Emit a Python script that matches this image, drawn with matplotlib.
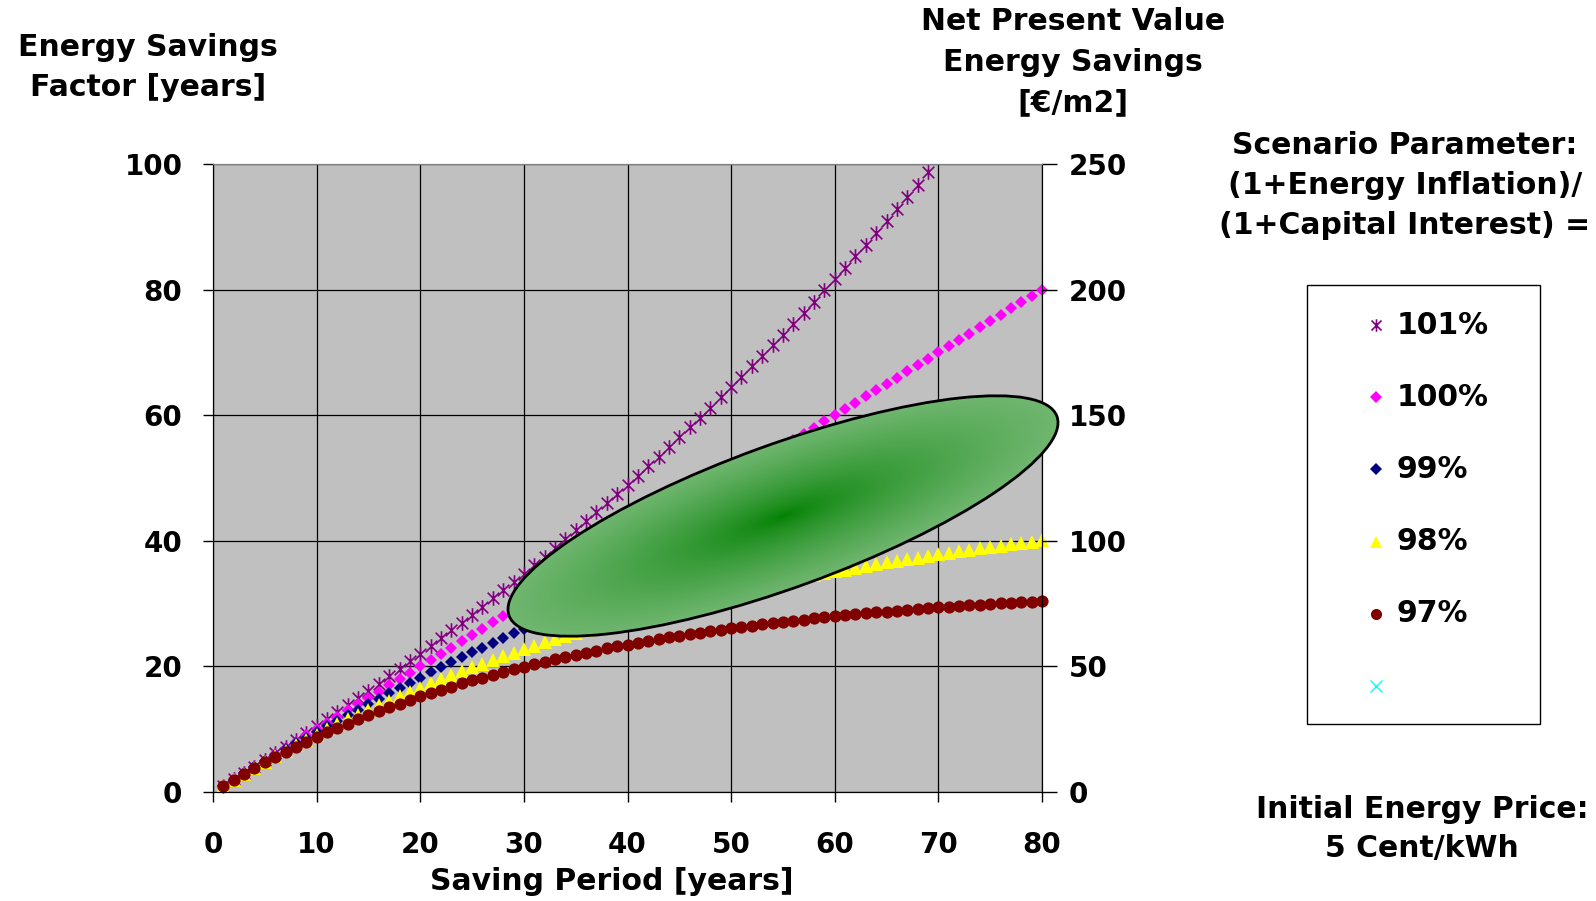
import numpy as np
import matplotlib.pyplot as plt
from matplotlib.patches import Ellipse, Rectangle
from matplotlib.path import Path

W, H = 1596, 901

# saving period in years
years = np.arange(1, 81)

# energy savings factor per scenario (years of undiscounted savings)
factor_101 = [1.00, 2.01, 3.03, 4.06, 5.10, 6.15, 7.21, 8.29, 9.37, 10.46,
              11.57, 12.68, 13.81, 14.95, 16.10, 17.26, 18.43, 19.61, 20.81, 22.02,
              23.24, 24.47, 25.72, 26.97, 28.24, 29.53, 30.82, 32.13, 33.45, 34.78,
              36.13, 37.49, 38.87, 40.26, 41.66, 43.08, 44.51, 45.95, 47.41, 48.89,
              50.38, 51.88, 53.40, 54.93, 56.48, 58.05, 59.63, 61.22, 62.83, 64.46,
              66.11, 67.77, 69.45, 71.14, 72.85, 74.58, 76.33, 78.09, 79.87, 81.67,
              83.49, 85.32, 87.17, 89.05, 90.94, 92.85, 94.77, 96.72, 98.69]
factor_100 = [1, 2, 3, 4, 5, 6, 7, 8, 9, 10,
              11, 12, 13, 14, 15, 16, 17, 18, 19, 20,
              21, 22, 23, 24, 25, 26, 27, 28, 29, 30,
              31, 32, 33, 34, 35, 36, 37, 38, 39, 40,
              41, 42, 43, 44, 45, 46, 47, 48, 49, 50,
              51, 52, 53, 54, 55, 56, 57, 58, 59, 60,
              61, 62, 63, 64, 65, 66, 67, 68, 69, 70,
              71, 72, 73, 74, 75, 76, 77, 78, 79, 80]
factor_99 = [1.00, 1.99, 2.97, 3.94, 4.90, 5.85, 6.79, 7.73, 8.65, 9.56,
             10.47, 11.36, 12.25, 13.13, 13.99, 14.85, 15.71, 16.55, 17.38, 18.21,
             19.03, 19.84, 20.64, 21.43, 22.22, 23.00, 23.77, 24.53, 25.28, 26.03,
             26.77, 27.50, 28.23, 28.94, 29.66, 30.36, 31.06, 31.74, 32.43, 33.10,
             33.77, 34.43, 35.09, 35.74, 36.38, 37.02, 37.65, 38.27, 38.89, 39.50,
             40.10, 40.70, 41.30, 41.88, 42.46, 43.04, 43.61, 44.17, 44.73, 45.28,
             45.83, 46.37, 46.91, 47.44, 47.97, 48.49, 49.00, 49.51, 50.02, 50.52,
             51.01, 51.50, 51.99, 52.47, 52.94, 53.41, 53.88, 54.34, 54.80, 55.25]
factor_98 = [1.00, 1.98, 2.94, 3.88, 4.80, 5.71, 6.59, 7.46, 8.31, 9.15,
             9.96, 10.76, 11.55, 12.32, 13.07, 13.81, 14.53, 15.24, 15.94, 16.62,
             17.29, 17.94, 18.58, 19.21, 19.83, 20.43, 21.02, 21.60, 22.17, 22.73,
             23.27, 23.81, 24.33, 24.84, 25.35, 25.84, 26.32, 26.80, 27.26, 27.71,
             28.16, 28.60, 29.03, 29.44, 29.86, 30.26, 30.65, 31.04, 31.42, 31.79,
             32.16, 32.51, 32.86, 33.21, 33.54, 33.87, 34.19, 34.51, 34.82, 35.12,
             35.42, 35.71, 36.00, 36.28, 36.55, 36.82, 37.08, 37.34, 37.60, 37.84,
             38.09, 38.33, 38.56, 38.79, 39.01, 39.23, 39.45, 39.66, 39.86, 40.07]
factor_97 = [1.00, 1.97, 2.91, 3.82, 4.71, 5.57, 6.40, 7.21, 7.99, 8.75,
             9.49, 10.21, 10.90, 11.57, 12.22, 12.86, 13.47, 14.07, 14.65, 15.21,
             15.75, 16.28, 16.79, 17.29, 17.77, 18.23, 18.69, 19.13, 19.55, 19.97,
             20.37, 20.76, 21.13, 21.50, 21.85, 22.20, 22.53, 22.86, 23.17, 23.48,
             23.77, 24.06, 24.34, 24.61, 24.87, 25.12, 25.37, 25.61, 25.84, 26.06,
             26.28, 26.49, 26.70, 26.90, 27.09, 27.28, 27.46, 27.64, 27.81, 27.97,
             28.13, 28.29, 28.44, 28.59, 28.73, 28.87, 29.00, 29.13, 29.26, 29.38,
             29.50, 29.61, 29.73, 29.83, 29.94, 30.04, 30.14, 30.24, 30.33, 30.42]

series_labels = ['101%', '100%', '99%', '98%', '97%', '']
x_ticks = [0, 10, 20, 30, 40, 50, 60, 70, 80]
left_ticks = [0, 20, 40, 60, 80, 100]
right_ticks = [0, 50, 100, 150, 200, 250]

plt.rcParams['font.family'] = 'DejaVu Sans'
plt.rcParams['font.weight'] = 'bold'

# excel style asterisk: an x with a vertical bar through it
star = Path([(0, -1), (0, 1), (-0.8, -0.8), (0.8, 0.8), (-0.8, 0.8), (0.8, -0.8)],
            [Path.MOVETO, Path.LINETO] * 3)

styles = [
    dict(marker=star, ms=10.5, mfc='none', mec='#800080', mew=1.2),
    dict(marker='D', ms=6.6, mfc='#FF00FF', mec='#FF00FF', mew=0),
    dict(marker='D', ms=6.6, mfc='#000080', mec='#000080', mew=0),
    dict(marker='^', ms=9.5, mfc='#FFFF00', mec='#FFFF00', mew=0),
    dict(marker='o', ms=8.8, mfc='#800000', mec='#800000', mew=0),
    dict(marker='x', ms=8, mfc='none', mec='#00FFFF', mew=1.0),
]

fig = plt.figure(figsize=(W / 100, H / 100), dpi=100)
ax = fig.add_axes([213 / W, 1 - 792 / H, (1042 - 213) / W, (792 - 164) / H])
ax.set_facecolor('#C0C0C0')

all_series = [(years[:len(factor_101)], factor_101), (years, factor_100),
              (years, factor_99), (years, factor_98), (years, factor_97)]
for (xs, ys), st in zip(all_series, styles):
    ax.plot(xs, ys, linestyle='none', clip_on=False, **st)

ax.set_xlim(0, 80)
ax.set_ylim(0, 100)
ax.set_xticks(x_ticks)
ax.set_yticks(left_ticks)
ax.grid(color='black', linewidth=0.9)
ax.set_axisbelow(True)
ax.tick_params(axis='y', direction='out', length=7, width=1, pad=15, labelsize=20)
ax.tick_params(axis='x', direction='out', length=7, width=1, pad=21, labelsize=20)
for side in ['left', 'right', 'bottom']:
    ax.spines[side].set_color('black')
ax.spines['top'].set_color('#808080')

ax2 = ax.twinx()
ax2.set_ylim(0, 250)
ax2.set_yticks(right_ticks)
ax2.tick_params(axis='y', direction='out', length=11, width=1, pad=8, labelsize=20)
ax2.spines['top'].set_color('#808080')

# overlay in figure pixels for the highlight, titles and legend
ov = fig.add_axes([0, 0, 1, 1], zorder=10)
ov.patch.set_alpha(0)
ov.axis('off')

cx, cy, ew, eh, ang = 783, H - 516, 583, 143, 20
gx = np.linspace(cx - 300, cx + 300, 600)
gy = np.linspace(cy - 140, cy + 140, 280)
GX, GY = np.meshgrid(gx, gy)
t = np.deg2rad(ang)
u = (GX - cx) * np.cos(t) + (GY - cy) * np.sin(t)
v = -(GX - cx) * np.sin(t) + (GY - cy) * np.cos(t)
r = np.clip(np.sqrt((u / (ew / 2)) ** 2 + (v / (eh / 2)) ** 2), 0, 1) ** 0.7
inner = np.array([0, 128, 0]) / 255
outer = np.array([112, 182, 112]) / 255
img = inner + (outer - inner) * r[..., None]
im = ov.imshow(img, extent=(gx[0], gx[-1], gy[0], gy[-1]), origin='lower',
               aspect='auto', interpolation='bilinear', zorder=1)
clip = Ellipse((cx, cy), ew, eh, angle=ang, facecolor='none', edgecolor='none')
ov.add_patch(clip)
im.set_clip_path(clip)
ov.add_patch(Ellipse((cx, cy), ew, eh, angle=ang, fill=False,
                     edgecolor='black', linewidth=2, zorder=2))


def block(lines, x, y0, step, size=21.5):
    for i, s in enumerate(lines):
        ov.text(x, H - (y0 + i * step), s, ha='center', va='center',
                fontsize=size, fontweight='bold')


block(['Energy Savings', 'Factor [years]'], 148, 47, 40)
block(['Net Present Value', 'Energy Savings', '[€/m2]'], 1073, 22, 40.5)
block(['Scenario Parameter:', '(1+Energy Inflation)/', '(1+Capital Interest) ='], 1405, 146, 40)
block(['Initial Energy Price:', '5 Cent/kWh'], 1422, 810, 38)
block(['Saving Period [years]'], 612, 881, 0)

# legend box
ov.add_patch(Rectangle((1307, H - 724), 233, 439, facecolor='white',
                       edgecolor='black', linewidth=1, zorder=3))
key_sizes = [9, 6.5, 6.2, 9, 8, 9]
for i, (lab, st) in enumerate(zip(series_labels, styles)):
    yk = H - (325 + i * 72.2)
    kst = dict(st)
    kst['ms'] = key_sizes[i]
    ov.plot([1376], [yk], linestyle='none', zorder=4, **kst)
    ov.text(1397, yk, lab, ha='left', va='center', fontsize=21.5,
            fontweight='bold', zorder=4)

ov.set_xlim(0, W)
ov.set_ylim(0, H)

fig.savefig('out.png', dpi=100)
